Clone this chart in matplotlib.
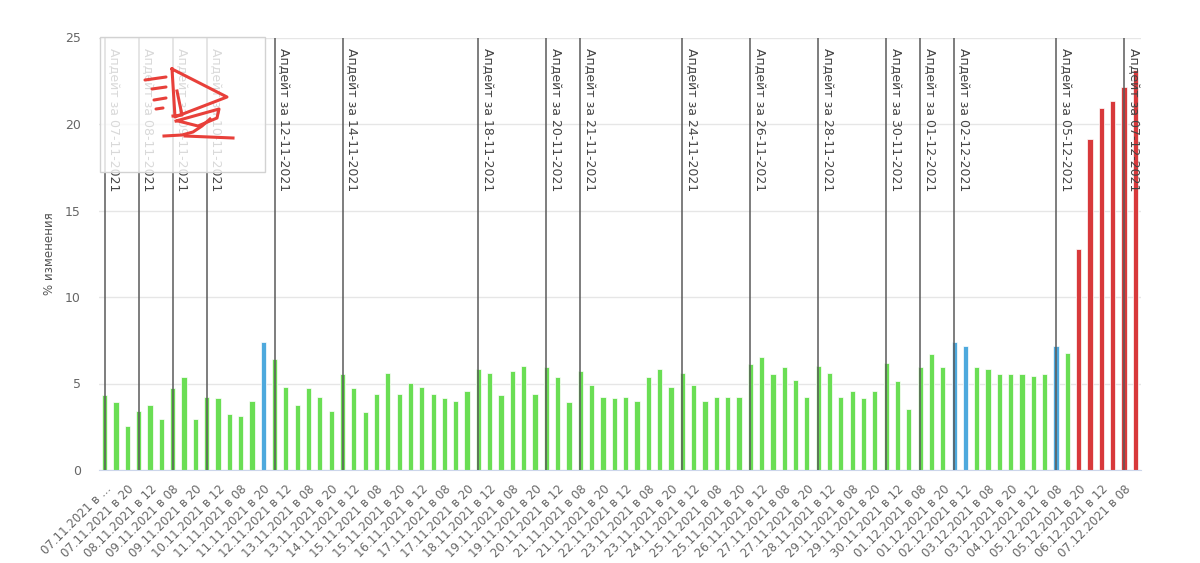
import datetime
import numpy as np
import matplotlib
matplotlib.use("Agg")
import matplotlib.pyplot as plt
from matplotlib.patches import Rectangle

# категории: три замера в день (08, 12, 20) с 07.11.2021 в 08 по 07.12.2021 в 12
start_day = datetime.date(2021, 11, 7)
hours = ["08", "12", "20"]
categories = [f"{start_day + datetime.timedelta(days=d):%d.%m.%Y} в {h}"
              for d in range(31) for h in hours][:92]

# % изменения
values = [4.34, 3.95, 2.55, 3.41, 3.74, 2.95, 4.75, 5.40, 2.95, 4.21,
          4.15, 3.22, 3.14, 4.01, 7.39, 6.40, 4.80, 3.74, 4.75, 4.21,
          3.41, 5.54, 4.75, 3.36, 4.42, 5.61, 4.42, 5.01, 4.80, 4.42,
          4.15, 4.01, 4.55, 5.81, 5.61, 4.34, 5.75, 6.02, 4.42, 5.94,
          5.40, 3.95, 5.75, 4.94, 4.21, 4.15, 4.21, 4.01, 5.40, 5.81,
          4.80, 5.61, 4.94, 4.01, 4.21, 4.21, 4.21, 6.13, 6.54, 5.54,
          5.94, 5.21, 4.21, 6.00, 5.61, 4.21, 4.55, 4.15, 4.55, 6.19,
          5.15, 3.55, 5.94, 6.73, 5.94, 7.39, 7.14, 5.94, 5.81, 5.56,
          5.56, 5.56, 5.42, 5.56, 7.19, 6.75, 12.79, 19.12, 20.91, 21.32,
          22.16, 23.11]

# подсвеченные точки
blue_points = ["11.11.2021 в 20", "02.12.2021 в 08", "02.12.2021 в 12", "05.12.2021 в 08"]
red_from = "05.12.2021 в 20"

# апдейты
updates = ["07-11-2021", "08-11-2021", "09-11-2021", "10-11-2021", "12-11-2021",
           "14-11-2021", "18-11-2021", "20-11-2021", "21-11-2021", "24-11-2021",
           "26-11-2021", "28-11-2021", "30-11-2021", "01-12-2021", "02-12-2021",
           "05-12-2021", "07-12-2021"]

GREEN = "#6ade54"
BLUE = "#4ea9dd"
RED = "#d8393b"

x = np.arange(len(categories))
red_start = categories.index(red_from)
colors = []
for i, c in enumerate(categories):
    if i >= red_start:
        colors.append(RED)
    elif c in blue_points:
        colors.append(BLUE)
    else:
        colors.append(GREEN)

fig = plt.figure(figsize=(12, 5.63), dpi=100)
ax = fig.add_axes([99 / 1200, 1 - 470 / 563, 1042 / 1200, 432.5 / 563])

ax.bar(x, values, width=0.46, color=colors, edgecolor="white", linewidth=0.5, zorder=2)

# вертикальные линии апдейтов
for u in updates:
    dd, mm, yy = u.split("-")
    pos = categories.index(f"{dd}.{mm}.{yy} в 08")
    ax.axvline(pos, color="#5a5a5a", lw=1.1, zorder=3)
    ax.text(pos + 0.22, 0.975, "Апдейт за " + u, transform=ax.get_xaxis_transform(),
            rotation=270, ha="left", va="top", fontsize=9, color="#444444", zorder=4)

ax.set_xlim(-0.5, len(categories) - 0.5)
ax.set_ylim(0, 25)
ax.set_yticks([0, 5, 10, 15, 20, 25])
ax.yaxis.grid(True, color="#e6e6e6", lw=1)
ax.set_axisbelow(True)
for s in ["left", "top", "right"]:
    ax.spines[s].set_visible(False)
ax.spines["bottom"].set_color("#ccd6eb")

tick_labels = [c for c in categories[::2]]
tick_labels[0] = "07.11.2021 в ..."
ax.set_xticks(x[::2])
ax.set_xticklabels(tick_labels, rotation=45, ha="right", va="top",
                   rotation_mode="anchor", fontsize=8.5, color="#666666")
ax.tick_params(axis="x", length=0, pad=9)
ax.tick_params(axis="y", length=0, pad=13, labelsize=9, labelcolor="#666666")

ax.set_ylabel("% изменения", fontsize=8.5, color="#555555")
ax.yaxis.set_label_coords(-0.041, 0.5)

# водяной знак поверх графика
ov = fig.add_axes([0, 0, 1, 1])
ov.set_xlim(0, 1200)
ov.set_ylim(563, 0)
ov.axis("off")
ov.patch.set_alpha(0)
ov.add_patch(Rectangle((100, 37), 165, 135, facecolor=(1, 1, 1, 0.8),
                       edgecolor="#d2d2d2", lw=1))
logo = "#e8403a"
lw = 2.2
for (x0, y0, x1, y1) in [(145, 80, 166, 77), (152, 89, 166, 87),
                         (154, 100, 166, 98), (156, 109, 163, 108)]:
    ov.plot([x0, x1], [y0, y1], color=logo, lw=lw, solid_capstyle="round")
ov.plot([172, 227, 175, 172], [69, 97, 117, 69], color=logo, lw=lw)
ov.plot([177, 182, 173], [91, 115, 116], color=logo, lw=lw)
ov.plot([176, 219, 217, 198, 178], [121, 109, 118, 126, 121], color=logo, lw=lw)
ov.plot([210, 202, 193, 182, 164], [119, 126, 132, 135, 136], color=logo, lw=lw)
ov.plot([185, 233], [136, 138], color=logo, lw=lw)

fig.savefig("out.png", dpi=100)
